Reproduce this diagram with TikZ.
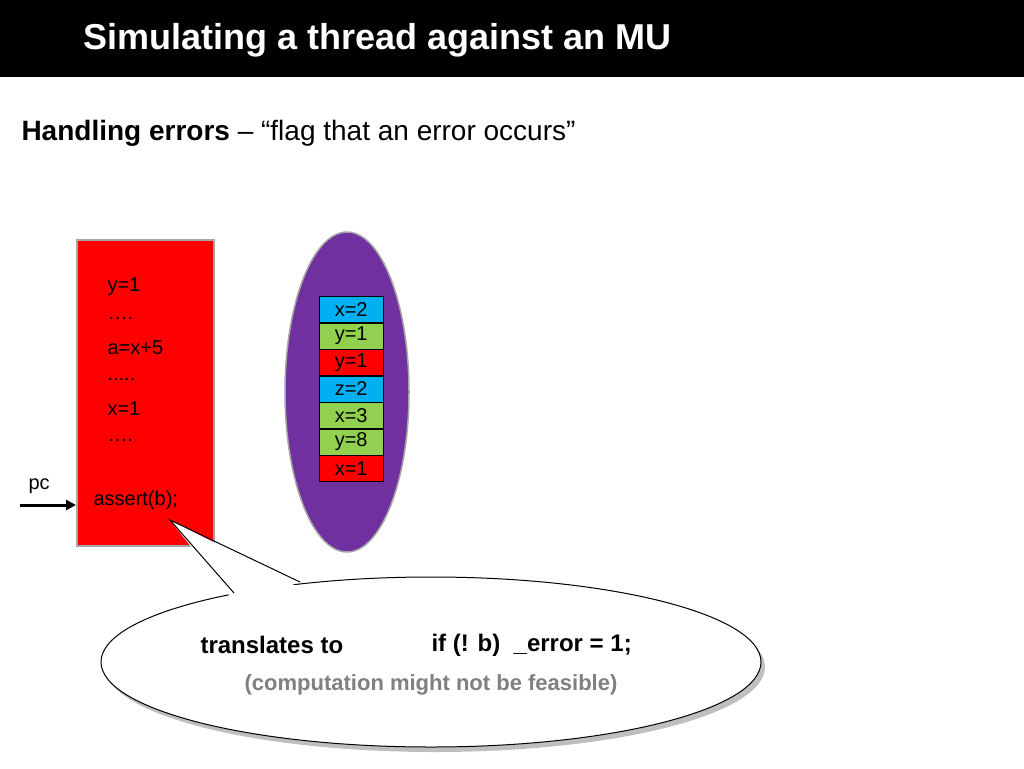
\documentclass[tikz,border=0pt]{standalone}
\usepackage{fontspec}
\setmainfont{Liberation Sans}
\usetikzlibrary{arrows.meta,shapes.geometric}
\definecolor{mublue}{HTML}{00B0F0}
\definecolor{mugreen}{HTML}{92D050}
\definecolor{mupurple}{HTML}{7030A0}
\tikzset{cell/.style={draw=black,minimum width=64pt,minimum height=26.1pt,inner sep=0pt,anchor=north west,font=\fontsize{20}{20}\selectfont},
code/.style={anchor=west,font=\fontsize{20}{20}\selectfont}}
\begin{document}
\begin{tikzpicture}[x=1pt,y=-1pt]
\useasboundingbox (0,0) rectangle (1024,768);
\fill[black] (0,0) rectangle (1024,77);
\node[anchor=west,text=white,font=\bfseries\fontsize{36}{36}\selectfont] (title) at (80,40) {Simulating a thread against an MU};
\node[anchor=west,font=\fontsize{28}{28}\selectfont] (sub) at (18,133) {\textbf{Handling errors} -- “flag that an error occurs”};
\node[draw=gray!70,line width=1.5pt,fill=red,minimum width=137pt,minimum height=306pt,anchor=north west,inner sep=0pt] (prog) at (76,239) {};
\node[code] (l1) at (104,287) {y=1};
\node[code] (l2) at (104,318) {….};
\node[code] (l3) at (104,348) {a=x+5};
\node[code] (l4) at (104,379) {.....};
\node[code] (l5) at (104,409) {x=1};
\node[code] (l6) at (104,440) {….};
\node[code] (l7) at (90,500) {assert(b);};
\node[code] (pc) at (25,486) {pc};
\coordinate (pcs) at (20,505);
\draw[-{Triangle[length=10pt,width=10pt]},line width=3pt] (pcs) -- (prog.west |- pcs);
\node[draw=gray!70,line width=1.5pt,fill=mupurple,ellipse,minimum width=124pt,minimum height=320pt,inner sep=0pt] (mu) at (347,392) {};
\node[cell,fill=mublue] (c1) at (319,296) {x=2};
\node[cell,fill=mugreen] (c2) at (c1.south west) {y=1};
\node[cell,fill=red] (c3) at (c2.south west) {y=1};
\node[cell,fill=mublue] (c4) at (c3.south west) {z=2};
\node[cell,fill=mugreen] (c5) at (c4.south west) {x=3};
\node[cell,fill=mugreen] (c6) at (c5.south west) {y=8};
\node[cell,fill=red] (c7) at (c6.south west) {x=1};
% callout
\fill[gray!50] (435,667) ellipse [x radius=330,y radius=85];
\fill[white] (170,520) -- (235,597) -- (300,586) -- cycle;
\draw[line width=1pt,fill=white] (431,662) ellipse [x radius=330,y radius=85];
\fill[white] (170,520) -- (233,600) -- (302,589) -- cycle;
\coordinate (tip) at (170,520);
\draw[line width=1pt] (234,593) -- (tip) -- (300,582);
\node[anchor=west,font=\bfseries\fontsize{24}{24}\selectfont] (t1) at (197,645) {translates to};
\node[anchor=west,font=\bfseries\fontsize{24}{24}\selectfont] (t2) at (428,645) {if (! b)\ \ \_error = 1;};
\node[font=\bfseries\fontsize{22}{22}\selectfont,text=gray] (t3) at (431,685) {(computation might not be feasible)};
\end{tikzpicture}
\end{document}
